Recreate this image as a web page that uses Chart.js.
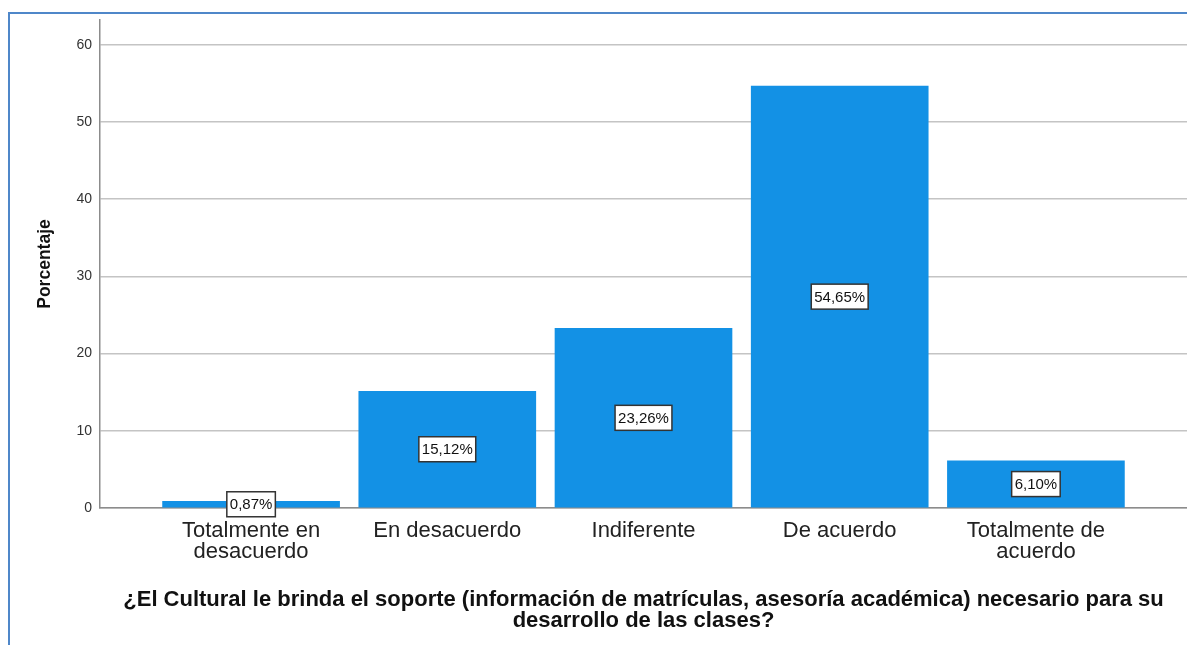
<!DOCTYPE html>
<html>
<head>
<meta charset="utf-8">
<script src="https://cdn.jsdelivr.net/npm/chart.js@4"></script>
<style>
  html, body { margin: 0; padding: 0; background: #fff; }
  #wrap { position: relative; width: 1187px; height: 645px; overflow: hidden; }
  #frame { position: absolute; left: 8px; top: 12px; right: -4px; bottom: -4px;
           border-left: 2px solid #4f87c9; border-top: 2px solid #4f87c9; }
  canvas { position: absolute; left: 0; top: 0; }
</style>
</head>
<body>
<div id="wrap">
  <div id="frame"></div>
  <canvas id="chart" width="1187" height="645"></canvas>
</div>
<script>
const categories = [
  ['Totalmente en', 'desacuerdo'],
  ['En desacuerdo'],
  ['Indiferente'],
  ['De acuerdo'],
  ['Totalmente de', 'acuerdo']
];
const positions = [1, 2, 3, 4, 5];
const percentages = [0.87, 15.12, 23.26, 54.65, 6.10];
const yTicks = [0, 10, 20, 30, 40, 50, 60];

const FONT = "'Liberation Sans', Arial, sans-serif";

// white boxes with the percentage, centred in each bar
const valueBoxes = {
  id: 'valueBoxes',
  afterDatasetsDraw(chart) {
    const ctx = chart.ctx;
    const meta = chart.getDatasetMeta(0);
    ctx.save();
    ctx.font = '15px ' + FONT;
    ctx.textAlign = 'center';
    ctx.textBaseline = 'middle';
    meta.data.forEach((bar, i) => {
      const txt = percentages[i].toFixed(2).replace('.', ',') + '%';
      const cy = (bar.y + bar.base) / 2;
      const w = ctx.measureText(txt).width + 6;
      const h = 25;
      ctx.fillStyle = '#ffffff';
      ctx.fillRect(bar.x - w / 2, cy - h / 2, w, h);
      ctx.strokeStyle = '#333333';
      ctx.lineWidth = 1.5;
      ctx.strokeRect(bar.x - w / 2, cy - h / 2, w, h);
      ctx.fillStyle = '#111111';
      ctx.fillText(txt, bar.x, cy + 1);
    });
    ctx.restore();
  }
};

new Chart(document.getElementById('chart'), {
  type: 'bar',
  data: {
    datasets: [{
      data: positions.map((p, i) => ({ x: p, y: percentages[i] })),
      backgroundColor: '#1391e5',
      borderWidth: 0,
      barThickness: 177
    }]
  },
  options: {
    responsive: false,
    animation: false,
    layout: { padding: { left: 0, right: 0, top: 20, bottom: 0 } },
    plugins: { legend: { display: false }, tooltip: { enabled: false } },
    scales: {
      x: {
        type: 'linear',
        offset: false,
        min: 0.23,
        max: 5.77,
        afterBuildTicks: s => { s.ticks = positions.map(v => ({ value: v })); },
        afterFit: s => { s.height = 137; },
        grid: { color: 'transparent', drawTicks: false },
        border: { color: '#8c8c8c', width: 1.5 },
        ticks: {
          padding: 12,
          maxRotation: 0,
          autoSkip: false,
          font: { size: 22, family: FONT, lineHeight: '21px' },
          color: '#222',
          callback: v => categories[v - 1]
        },
        title: {
          display: true,
          text: ['¿El Cultural le brinda el soporte (información de matrículas, asesoría académica) necesario para su',
                 'desarrollo de las clases?'],
          font: { size: 22, weight: 'bold', family: FONT, lineHeight: '21px' },
          color: '#111',
          padding: { top: 20, bottom: 14 }
        }
      },
      y: {
        min: 0,
        max: 63.2,
        afterBuildTicks: s => { s.ticks = yTicks.map(v => ({ value: v })); },
        afterFit: s => { s.width = 100; },
        grid: { color: '#c4c4c4', lineWidth: 1.5, drawTicks: false },
        border: { color: '#8c8c8c', width: 1.5 },
        ticks: {
          padding: 8,
          font: { size: 14, family: FONT },
          color: '#333'
        },
        title: {
          display: true,
          text: 'Porcentaje',
          font: { size: 17.5, weight: 'bold', family: FONT, lineHeight: '21px' },
          color: '#111',
          padding: { top: 35, bottom: 0 }
        }
      }
    }
  },
  plugins: [valueBoxes]
});
</script>
</body>
</html>
